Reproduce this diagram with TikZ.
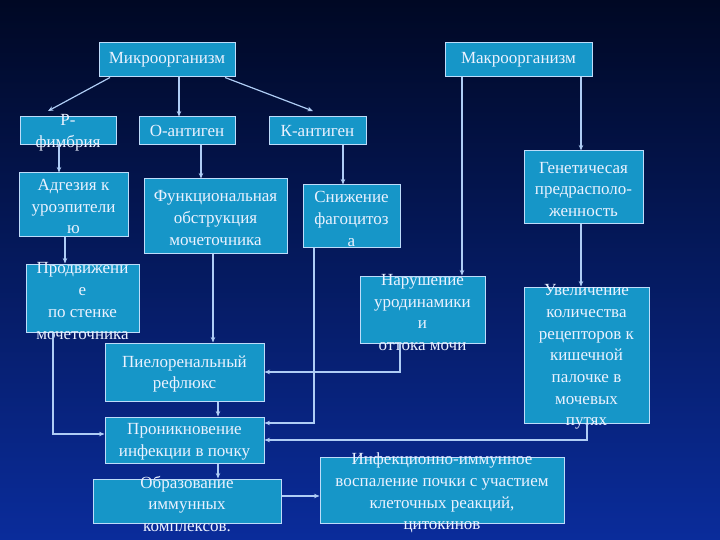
\documentclass[tikz,border=0pt]{standalone}
\usepackage{fontspec}
\setmainfont{Liberation Serif}
\usetikzlibrary{arrows.meta}
\definecolor{bgtop}{RGB}{0,8,36}
\definecolor{bgmid}{RGB}{6,34,125}
\definecolor{bgbot}{RGB}{10,44,155}
\definecolor{boxfill}{RGB}{22,150,200}
\definecolor{boxline}{RGB}{190,220,250}
\definecolor{linkcol}{RGB}{175,205,245}
\definecolor{txtcol}{RGB}{235,242,255}
\tikzset{
  box/.style={draw=boxline, fill=boxfill, line width=1pt, inner sep=0pt},
  txt/.style={text=txtcol, align=center, inner sep=0pt, font=\fontsize{17}{21.7}\selectfont},
  link/.style={draw=linkcol, line width=1.2pt, -{Stealth[length=5.5pt,width=4.5pt]}}
}
\newcommand{\mybox}[7]{% name, x1, y1, x2, y2, text, dy
  \node[box, minimum width=#4-#2, minimum height=#5-#3] (#1) at ({(#2+#4)/2},{(#3+#5)/2}) {};
  \node[txt] (#1t) at ({(#2+#4)/2},{(#3+#5)/2+#7}) {#6};
}
\begin{document}
\begin{tikzpicture}[x=1pt,y=-1pt]
\shade[top color=bgtop, middle color=bgmid, bottom color=bgbot] (0,0) rectangle (720,540);
\useasboundingbox (0,0) rectangle (720,540);

\mybox{mikro}{99}{43}{235}{77}{Микроорганизм}{0}
\mybox{makro}{445}{43}{592}{77}{Макроорганизм}{0}
\mybox{pfim}{20}{117}{116}{145}{Р-\\фимбрия}{2}
\mybox{oant}{139}{117}{235}{145}{О-антиген}{0}
\mybox{kant}{269}{117}{366}{145}{К-антиген}{0}
\mybox{adg}{19}{173}{128}{236}{Адгезия к\\уроэпители\\ю}{2}
\mybox{func}{144}{179}{287}{253}{Функциональная\\обструкция\\мочеточника}{2}
\mybox{sniz}{303}{185}{400}{247}{Снижение\\фагоцитоз\\а}{3}
\mybox{prod}{26}{264}{139}{332}{Продвижени\\е\\по стенке\\мочеточника}{3}
\mybox{gen}{524}{151}{643}{224}{Генетичесая\\предрасполо-\\женность}{2}
\mybox{nar}{360}{276}{485}{343}{Нарушение\\уродинамики\\и\\оттока мочи}{3}
\mybox{uvel}{524}{287}{649}{423}{Увеличение\\количества\\рецепторов к\\кишечной\\палочке в\\мочевых\\путях}{2}
\mybox{piel}{105}{343}{264}{401}{Пиелоренальный\\рефлюкс}{2}
\mybox{pron}{105}{417}{264}{463}{Проникновение\\инфекции в почку}{2}
\mybox{obr}{93}{479}{281}{523}{Образование\\иммунных\\комплексов.}{3}
\mybox{inf}{320}{457}{564}{523}{Инфекционно-иммунное\\воспаление почки с участием\\клеточных реакций,\\цитокинов}{3}

% connectors
\coordinate (pend) at (48,111);
\coordinate (kend) at (313,111);
\draw[link] (mikro.south -| 110,0) -- (pend);
\draw[link] (mikro.south -| 179,0) -- (oant.north -| 179,0);
\draw[link] (mikro.south -| 225,0) -- (kend);
\draw[link] (makro.south -| 462,0) -- (nar.north -| 462,0);
\draw[link] (makro.south -| 581,0) -- (gen.north -| 581,0);
\draw[link] (pfim.south -| 59,0) -- (adg.north -| 59,0);
\draw[link] (oant.south -| 201,0) -- (func.north -| 201,0);
\draw[link] (kant.south -| 343,0) -- (sniz.north -| 343,0);
\draw[link] (adg.south -| 65,0) -- (prod.north -| 65,0);
\draw[link] (func.south -| 213,0) -- (piel.north -| 213,0);
\draw[link] (sniz.south -| 314,0) -- (314,423) -- (pron.east |- 0,423);
\draw[link] (nar.south -| 400,0) -- (400,372) -- (piel.east |- 0,372);
\draw[link] (prod.south -| 53,0) -- (53,434) -- (pron.west |- 0,434);
\draw[link] (uvel.south -| 587,0) -- (587,440) -- (pron.east |- 0,440);
\draw[link] (gen.south -| 581,0) -- (uvel.north -| 581,0);
\draw[link] (piel.south -| 218,0) -- (pron.north -| 218,0);
\draw[link] (pron.south -| 218,0) -- (obr.north -| 218,0);
\draw[link] (obr.east |- 0,496) -- (inf.west |- 0,496);
\end{tikzpicture}
\end{document}
